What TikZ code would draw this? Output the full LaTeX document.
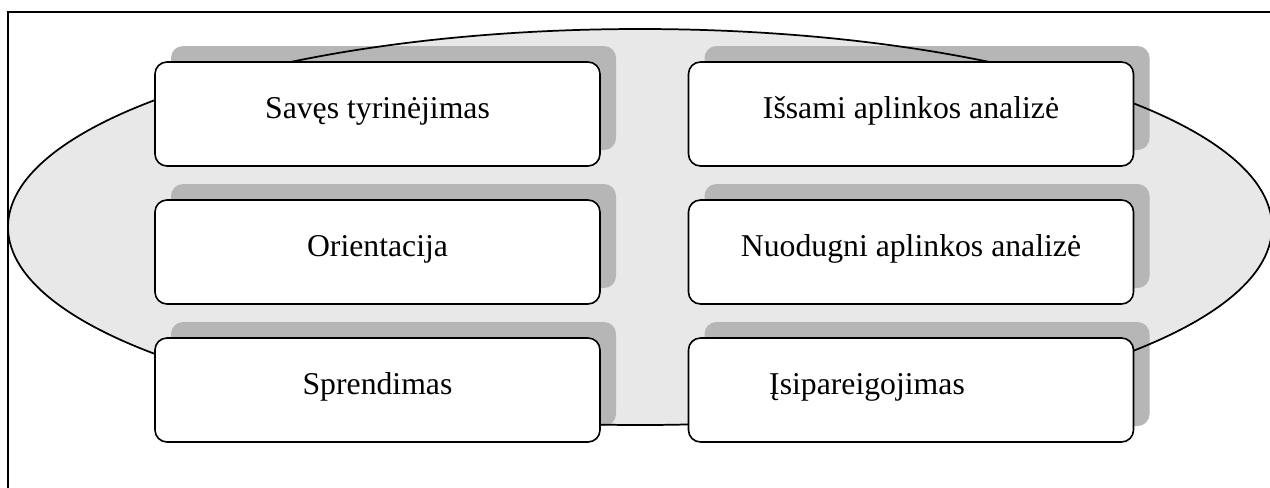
\documentclass[tikz,border=0pt]{standalone}
\usepackage{fontspec}
\setmainfont{Liberation Serif}
\definecolor{ellfill}{HTML}{E8E8E8}
\definecolor{shadowc}{HTML}{B6B6B6}
\begin{document}
\begin{tikzpicture}[x=0.75pt,y=-0.75pt,
  boxshape/.style={rounded corners=9pt,minimum width=333.75pt,minimum height=78pt,inner sep=0pt},
  card/.style={boxshape,draw=black,line width=1.2pt,fill=white},
  shade/.style={boxshape,fill=shadowc},
  lbl/.style={anchor=base,font=\fontsize{23.8}{28}\selectfont,inner sep=0pt}]
\useasboundingbox (0,0) rectangle (1270,487);
\clip (0,0) rectangle (1270,487);
% outer frame
\draw[line width=1.3pt] (8,12) rectangle (1290,520);
% ellipse fill
\fill[ellfill] (640,227) ellipse [x radius=474pt, y radius=148.5pt];
% shadows
\foreach \n/\x/\y in {sa/377.5/114, sb/377.5/252, sc/377.5/390, sd/911/114, se/911/252, sf/911/390}{
  \node[shade] (\n) at (\x+16,\y-16) {};
}
% ellipse outline
\draw[line width=1.3pt] (640,227) ellipse [x radius=474pt, y radius=148.5pt];
% cards
\node[card] (a) at (377.5,114) {};
\node[card] (b) at (377.5,252) {};
\node[card] (c) at (377.5,390) {};
\node[card] (d) at (911,114) {};
\node[card] (e) at (911,252) {};
\node[card] (f) at (911,390) {};
\node[lbl] (ta) at ([yshift=-3pt]a.center) {Savęs tyrinėjimas};
\node[lbl] (tb) at ([yshift=-3pt]b.center) {Orientacija};
\node[lbl] (tc) at ([yshift=-3pt]c.center) {Sprendimas};
\node[lbl] (td) at ([yshift=-3pt]d.center) {Išsami aplinkos analizė};
\node[lbl] (te) at ([yshift=-3pt]e.center) {Nuodugni aplinkos analizė};
\node[lbl] (tf) at ([xshift=-33pt,yshift=-3pt]f.center) {Įsipareigojimas};
\end{tikzpicture}
\end{document}
